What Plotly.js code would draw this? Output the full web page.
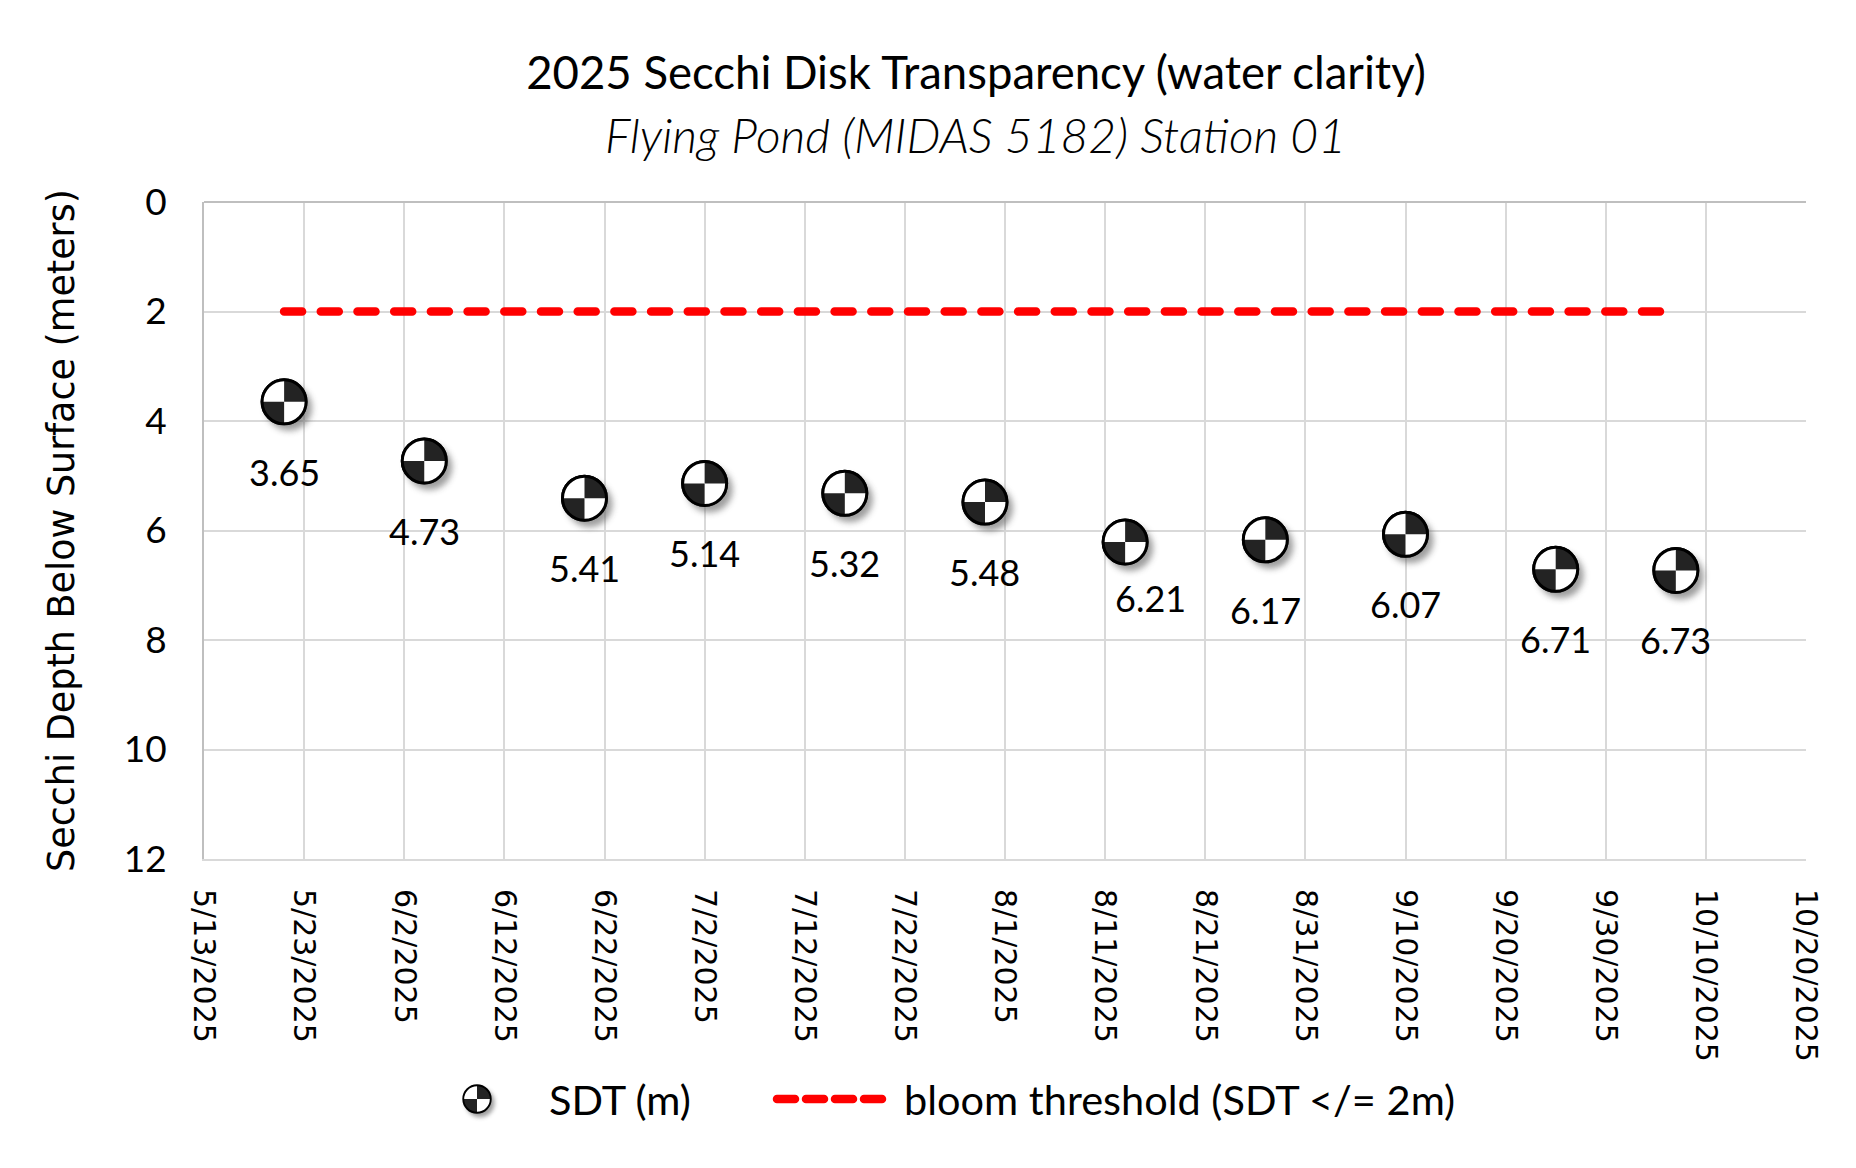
<!DOCTYPE html>
<html>
<head>
<meta charset="utf-8">
<script src="https://cdn.plot.ly/plotly-3.0.1.min.js"></script>
<style>
  html, body { margin: 0; padding: 0; background: #ffffff; }
  #chart { width: 1856px; height: 1168px; }
</style>
</head>
<body>
<div id="chart"></div>
<script>
// ---- data ----
const sampleDates = ['2025-05-21','2025-06-04','2025-06-20','2025-07-02','2025-07-16','2025-07-30',
                     '2025-08-13','2025-08-27','2025-09-10','2025-09-25','2025-10-07'];
const sdtValues = [3.65, 4.73, 5.41, 5.14, 5.32, 5.48, 6.21, 6.17, 6.07, 6.71, 6.73];
const thresholdDates = ['2025-05-21', '2025-10-07'];
const thresholdValues = [2, 2];
const yTickValues = [0, 2, 4, 6, 8, 10, 12];
const seriesNames = ['SDT (m)', 'bloom threshold (SDT </= 2m)'];
const chartTitle = '2025 Secchi Disk Transparency (water clarity)';
const chartSubtitle = 'Flying Pond (MIDAS 5182) Station 01';
const yAxisTitle = 'Secchi Depth Below Surface (meters)';

// ---- geometry / styling ----
const W = 1856, H = 1168;
const M = { l: 204, r: 50, t: 202, b: 309 };
const PW = W - M.l - M.r, PH = H - M.t - M.b;
const DAY = 86400000;
const xRange = ['2025-05-13', '2025-10-20'];
const daysSpan = 160;
const pxPerDay = PW / daysSpan;
const pxPerM = PH / 12;
const px2px = (px) => (px - M.l) / PW;   // page px -> paper x
const py2py = (py) => (M.t + PH - py) / PH; // page px -> paper y

const CAL = 'Lato, "Open Sans", sans-serif';
const VER = '"DejaVu Sans", Verdana, sans-serif';

function diskSVG() {
  const s = "<svg xmlns='http://www.w3.org/2000/svg' width='80' height='80' viewBox='0 0 80 80'>" +
    "<defs><filter id='f' x='-50%' y='-50%' width='200%' height='200%'><feGaussianBlur stdDeviation='3.4'/></filter></defs>" +
    "<circle cx='45' cy='46' r='23' fill='#5e5e5e' opacity='0.6' filter='url(#f)'/>" +
    "<circle cx='40' cy='40' r='22' fill='#ffffff'/>" +
    "<path d='M40 40 L40 18 A22 22 0 0 1 62 40 Z' fill='#232323'/>" +
    "<path d='M40 40 L40 62 A22 22 0 0 1 18 40 Z' fill='#232323'/>" +
    "<circle cx='40' cy='40' r='22' fill='none' stroke='#000000' stroke-width='3'/>" +
    "</svg>";
  return 'data:image/svg+xml;charset=utf-8,' + encodeURIComponent(s);
}
const DISK = diskSVG();
const imgPx = 80;

// label nudges (px) for data labels that were moved by hand in the original
const labelNudge = { 6: { dx: 25, dy: 14 } };

const traces = [
  {
    type: 'scatter', mode: 'lines', name: seriesNames[1],
    x: thresholdDates, y: thresholdValues,
    line: { color: '#ff0000', width: 8.5, dash: '18px,18.7px' },
    showlegend: false, hoverinfo: 'skip'
  },
  {
    type: 'scatter', mode: 'markers', name: seriesNames[0],
    x: sampleDates, y: sdtValues,
    marker: { symbol: 'circle', size: 44, color: '#ffffff', line: { color: '#000', width: 3 } },
    showlegend: false
  }
];

const images = sampleDates.map((d, i) => ({
  source: DISK, xref: 'x', yref: 'y', x: d, y: sdtValues[i],
  sizex: imgPx / pxPerDay * DAY, sizey: imgPx / pxPerM,
  xanchor: 'center', yanchor: 'middle', layer: 'above', sizing: 'contain'
}));

const legendY = py2py(1099);
// legend disk icon
images.push({
  source: DISK, xref: 'paper', yref: 'paper', x: px2px(477), y: legendY,
  sizex: 50 / PW, sizey: 50 / PH, xanchor: 'center', yanchor: 'middle', layer: 'above', sizing: 'contain'
});

const annotations = sampleDates.map((d, i) => {
  const n = labelNudge[i] || { dx: 0, dy: 0 };
  return {
    x: d, y: sdtValues[i], xref: 'x', yref: 'y', text: sdtValues[i].toFixed(2),
    showarrow: false, xanchor: 'center', yanchor: 'middle',
    xshift: n.dx, yshift: -70 + n.dy,
    font: { family: CAL, size: 36, color: '#000' }
  };
});

annotations.push({
  text: chartSubtitle, xref: 'paper', yref: 'paper', x: px2px(975), y: py2py(134),
  xanchor: 'center', yanchor: 'middle', showarrow: false,
  font: { family: CAL, size: 48, color: '#000', style: 'italic', weight: 300 }
});
annotations.push({
  text: seriesNames[0], xref: 'paper', yref: 'paper', x: px2px(547), y: legendY,
  xanchor: 'left', yanchor: 'middle', showarrow: false,
  font: { family: CAL, size: 41.5, color: '#000' }
});
annotations.push({
  text: 'bloom threshold (SDT &lt;/= 2m)', xref: 'paper', yref: 'paper', x: px2px(902), y: legendY,
  xanchor: 'left', yanchor: 'middle', showarrow: false,
  font: { family: CAL, size: 41.5, color: '#000' }
});

const shapes = [{
  type: 'line', xref: 'paper', yref: 'paper',
  x0: px2px(777), x1: px2px(891), y0: legendY, y1: legendY,
  line: { color: '#ff0000', width: 8.5, dash: '18px,11px' }
}];

const layout = {
  width: W, height: H,
  margin: M,
  paper_bgcolor: '#ffffff', plot_bgcolor: '#ffffff',
  font: { family: CAL, color: '#000' },
  showlegend: false,
  title: {
    text: chartTitle, xref: 'container', yref: 'container',
    x: 976 / W, xanchor: 'center', y: 1 - 73 / H, yanchor: 'middle',
    font: { family: CAL, size: 45.5, color: '#000' }
  },
  xaxis: {
    type: 'date', range: xRange,
    tick0: xRange[0], dtick: 10 * DAY, tickformat: '%-m/%-d/%Y',
    tickangle: 90, ticks: '', ticklabelstandoff: 22,
    tickfont: { family: VER, size: 30, color: '#000' },
    showgrid: true, gridcolor: '#d9d9d9', gridwidth: 2,
    showline: true, linecolor: '#d9d9d9', linewidth: 2,
    zeroline: false, fixedrange: true
  },
  yaxis: {
    range: [12, 0], tickvals: yTickValues, ticktext: yTickValues.map(String),
    ticks: '', ticklabelstandoff: 28,
    tickfont: { family: CAL, size: 37, color: '#000' },
    showgrid: true, gridcolor: '#d9d9d9', gridwidth: 2,
    showline: true, linecolor: '#bfbfbf', linewidth: 2,
    zeroline: true, zerolinecolor: '#bfbfbf', zerolinewidth: 2,
    title: { text: yAxisTitle, font: { family: VER, size: 36.5, color: '#000' }, standoff: 38 },
    fixedrange: true
  },
  images: images,
  annotations: annotations,
  shapes: shapes
};

Plotly.newPlot('chart', traces, layout, { displayModeBar: false, staticPlot: true }).then(function (gd) {
  gd.querySelectorAll('.scatterlayer .trace path.js-line').forEach(function (p) {
    p.style.strokeLinecap = 'round';
  });
  gd.querySelectorAll('.shapelayer path').forEach(function (p) {
    p.style.strokeLinecap = 'round';
  });
});
</script>
</body>
</html>
